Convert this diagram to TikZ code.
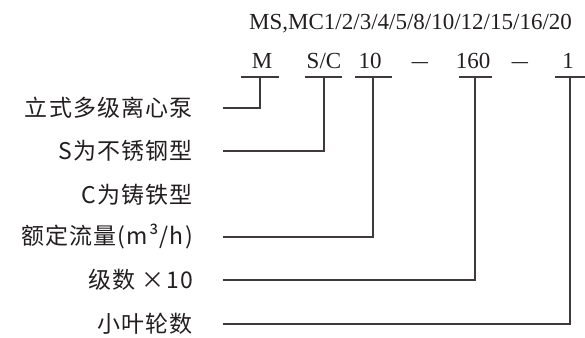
\documentclass[tikz,border=0pt]{standalone}
\usepackage{fontspec}
\usepackage{xcolor}
\usepackage{tikz}
\usetikzlibrary{positioning}
\newfontfamily\cjk[LetterSpace=5]{Noto Sans CJK SC}
\newfontfamily\codefont{Liberation Serif}
\definecolor{ink}{HTML}{231F20}
\definecolor{rulegray}{HTML}{3E3A39}
\newcommand{\codedash}{\scalebox{1.4}[1]{–}}

\begin{document}
\begin{tikzpicture}[x=1pt, y=-1pt, every node/.style={inner sep=0pt, text=ink},
    lbl/.style={anchor=east, font=\cjk\fontsize{23}{26}\selectfont},
    code/.style={anchor=base, font=\codefont\fontsize{23}{26}\selectfont},
    rule/.style={draw=rulegray, line width=1.2pt}]
    \useasboundingbox (0,0) rectangle (585,337);
    % model series line
    \node[code, anchor=base west] (series) at (249,30) {MS,MC1/2/3/4/5/8/10/12/15/16/20};
    \foreach \n/\x/\t in {m/262/M, sc/324/{S/C}, fl/370/10, d1/420/\codedash, st/473/160, d2/520/\codedash, im/568/1} {
        \node[code] (\n) at (\x,68) {\t};
    }
    % underlines
    \foreach \n/\a/\b/\v in {m/241/279/260, sc/305/342/324, fl/355/392/373, st/459/492/475, im/555/585/570} {
        \draw[rule] (\a,77) -- (\b,77);
        \coordinate (\n-top) at (\v,77);
    }
    % labels
    \foreach \n/\y/\t in {pump/108/立式多级离心泵, ss/151/S为不锈钢型, ci/195/C为铸铁型, flow/237/{额定流量(m³/h)}, stage/280/{级数 ×10}, imp/324/小叶轮数} {
        \node[lbl] (\n) at (193,\y) {\t};
        \coordinate (\n-start) at (223,\y);
    }
    \draw[rule] (pump-start) -| (m-top);
    \draw[rule] (ss-start) -| (sc-top);
    \draw[rule] (flow-start) -| (fl-top);
    \draw[rule] (stage-start) -| (st-top);
    \draw[rule] (imp-start) -| (im-top);
\end{tikzpicture}
\end{document}
